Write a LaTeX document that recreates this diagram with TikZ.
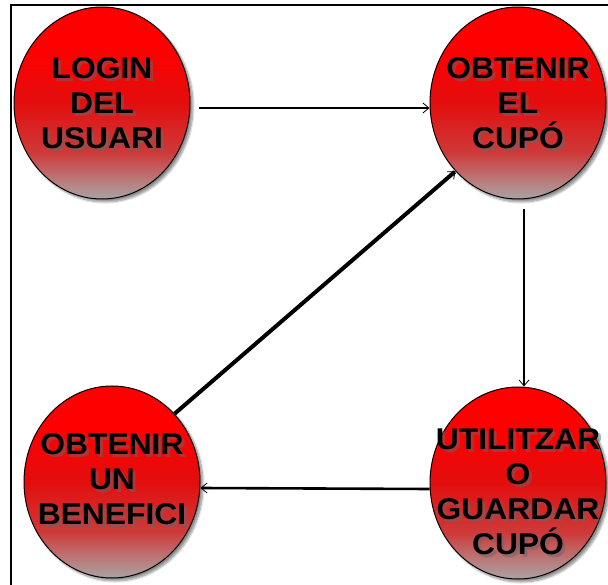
\documentclass[tikz,border=0pt]{standalone}
\usepackage{fontspec}
\setmainfont{Liberation Sans}[FakeStretch=1.06]
\usepackage{tikz}
\usetikzlibrary{shapes.geometric,arrows.meta,calc,shadows.blur}
\definecolor{ballgrey}{RGB}{170,162,162}
\definecolor{ballpink}{RGB}{186,122,122}
\definecolor{balldark}{RGB}{206,58,58}
\definecolor{ballred}{RGB}{226,14,14}
\pgfdeclareverticalshading{ballshade}{100bp}{color(0bp)=(ballgrey); color(25bp)=(ballgrey);
  color(30bp)=(ballpink); color(37bp)=(balldark); color(50bp)=(ballred); color(64bp)=(red); color(100bp)=(red)}

\begin{document}
\begin{tikzpicture}[x=1pt,y=-1pt,
    stateball/.style={ellipse, draw=black, line width=1pt, minimum width=176pt,
      minimum height=192pt, inner sep=0pt, shade, shading=ballshade,
      blur shadow={shadow xshift=3pt, shadow yshift=-3pt, shadow blur steps=8, shadow opacity=45}},
    statetext/.style={align=center, inner sep=0pt, font=\fontsize{30}{35}\selectfont\bfseries},
    textshadow/.style={text=black!60, opacity=.5},
    flow/.style={line width=2.6pt, -{Straight Barb[length=6pt,width=10pt,line width=0.8pt]}}]
    \useasboundingbox (0,0) rectangle (608,585);
    % Frame
    \draw[line width=1.5pt] (11,585) -- (11,5) -- (608,5);
    % States
    \node[stateball] (login) at (102,103) {};
    \node[stateball] (cupo) at (518,103) {};
    \node[stateball] (benefici) at (112,482) {};
    \node[stateball] (usar) at (518,483) {};
    % Labels
    \foreach \s/\dy/\txt in {login/0/{LOGIN\\DEL\\USUARI}, cupo/0/{OBTENIR\\EL\\CUPÓ},
        benefici/-3/{OBTENIR\\UN\\BENEFICI}, usar/9/{UTILITZAR\\O\\GUARDAR\\CUPÓ}} {
      \node[statetext, textshadow] (\s-shd) at ($(\s)+(3,\dy+3)$) {\txt};
      \node[statetext] (\s-txt) at ($(\s)+(0,\dy)$) {\txt};
    }
    % Connectors
    \draw[flow] ($(login.east)+(8,5)$) -- ($(cupo.west)+(0,5)$);
    \draw[flow, line width=2.2pt] ($(cupo.south)+(6,10)$) -- ($(usar.north)+(6,0)$);
    \draw[flow] ($(usar.west)+(0,6)$) -- ($(benefici.east)+(0,6)$);
    \draw[flow, line width=4pt] (benefici.north east) -- (cupo.south west);
\end{tikzpicture}
\end{document}
